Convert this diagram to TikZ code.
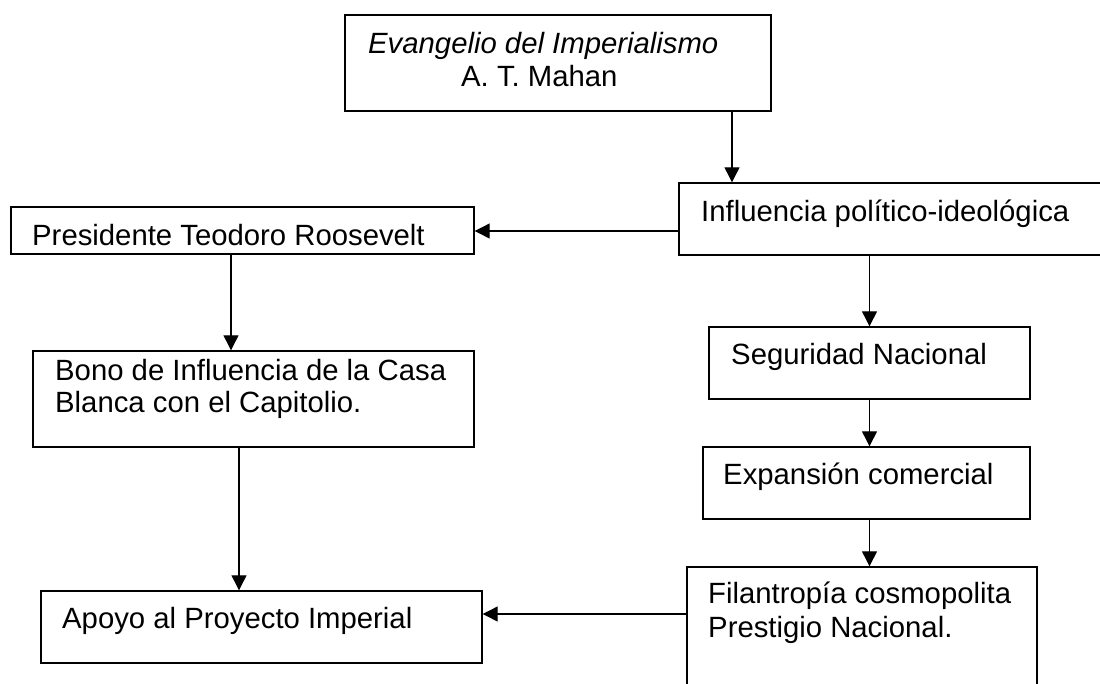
\documentclass[tikz,border=0pt]{standalone}
\usepackage{fontspec}
\setmainfont{Liberation Sans}
\usetikzlibrary{arrows.meta}
\begin{document}
\begin{tikzpicture}[x=1pt,y=-1pt,
  box/.style={draw=black,line width=1.4pt,rectangle,inner sep=0pt,fill=none},
  txt/.style={anchor=base west,inner sep=0pt,font=\fontsize{29.3}{33}\selectfont},
  arr/.style={line width=1.2pt,-{Triangle[length=15pt,width=15pt]}},
  ln/.style={line width=1.2pt}]
\useasboundingbox (0,0) rectangle (1100,683);
\clip (0,0) rectangle (1100,683);
% boxes
\node[box,minimum width=426pt,minimum height=96pt] (top) at (558,63) {};
\node[box,minimum width=423pt,minimum height=72pt] (infl) at (890.5,219) {};
\node[box,minimum width=463pt,minimum height=47pt] (pres) at (242.5,230.5) {};
\node[box,minimum width=441pt,minimum height=96pt] (bono) at (253.5,399) {};
\node[box,minimum width=441pt,minimum height=72pt] (apoyo) at (261.5,627) {};
\node[box,minimum width=321pt,minimum height=72pt] (seg) at (869.5,363) {};
\node[box,minimum width=327pt,minimum height=72pt] (exp) at (866.5,483) {};
\node[box,minimum width=350pt,minimum height=133pt] (fil) at (862,633.5) {};
% texts
\node[txt,font=\fontsize{29.3}{33}\selectfont\itshape] (t1) at (368,53) {Evangelio del Imperialismo};
\node[txt] (t2) at (461,86) {A. T. Mahan};
\node[txt] (t3) at (701,221) {Influencia político-ideológica};
\node[txt] (t4) at (32,245) {Presidente Teodoro Roosevelt};
\node[txt] (t5) at (55,380) {Bono de Influencia de la Casa};
\node[txt] (t6) at (55,412) {Blanca con el Capitolio.};
\node[txt] (t7) at (62,628) {Apoyo al Proyecto Imperial};
\node[txt] (t8) at (731,364) {Seguridad Nacional};
\node[txt] (t9) at (723,484) {Expansión comercial};
\node[txt] (t10) at (708,603) {Filantropía cosmopolita};
\node[txt] (t11) at (708,637) {Prestigio Nacional.};
% connector guides
\coordinate (xa) at (732,0);
\coordinate (ya) at (0,231);
\coordinate (xb) at (231,0);
\coordinate (xc) at (239,0);
\coordinate (xd) at (869.5,0);
\coordinate (yb) at (0,614);
% connectors
\draw[arr] (top.south -| xa) -- (infl.north -| xa);
\draw[arr] (infl.west |- ya) -- (pres.east |- ya);
\draw[arr] (pres.south -| xb) -- (bono.north -| xb);
\draw[arr] (bono.south -| xc) -- (apoyo.north -| xc);
\draw[arr] (infl.south -| xd) -- (seg.north -| xd);
\draw[arr] (seg.south -| xd) -- (exp.north -| xd);
\draw[arr] (exp.south -| xd) -- (fil.north -| xd);
\draw[arr] (fil.west |- yb) -- (apoyo.east |- yb);
\end{tikzpicture}
\end{document}
